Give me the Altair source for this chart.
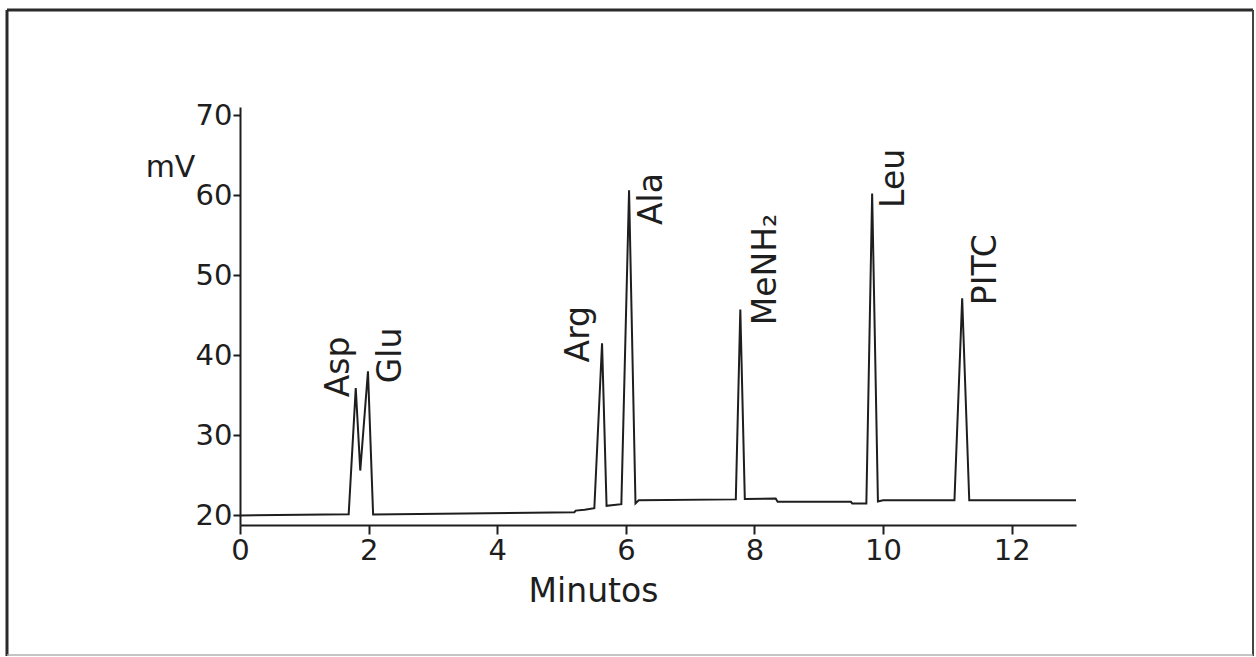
import altair as alt
import pandas as pd

# Chromatogram trace (minutes, mV)
times = [0.0, 1.69, 1.80, 1.87, 1.99, 2.07, 5.20, 5.22, 5.36, 5.51, 5.63, 5.70, 5.93,
         6.05, 6.15, 6.20, 7.71, 7.78, 7.85, 8.33, 8.36, 9.50, 9.52, 9.74, 9.83, 9.92,
         10.00, 11.11, 11.23, 11.34, 13.0]
signal = [20.0, 20.15, 35.9, 25.6, 38.0, 20.1, 20.4, 20.6, 20.7, 20.9, 41.5, 21.2, 21.4,
          60.6, 21.5, 21.9, 22.0, 45.7, 22.05, 22.1, 21.7, 21.7, 21.5, 21.5, 60.2, 21.75,
          21.9, 21.9, 47.1, 21.9, 21.9]

# Peak labels (rotated), anchored at the start of each text
peak_names = ["Asp", "Glu", "Arg", "Ala", "MeNH₂", "Leu", "PITC"]
peak_label_t = [1.70, 2.51, 5.42, 6.56, 8.34, 10.33, 11.76]
peak_label_mv = [34.75, 36.5, 39.1, 56.25, 43.75, 58.4, 46.25]

x_ticks = [0, 2, 4, 6, 8, 10, 12]
y_ticks = [20, 30, 40, 50, 60, 70]

FONT = "DejaVu Sans"
INK = "#1e1e1e"

trace = pd.DataFrame({"t": times, "mv": signal})
labels = pd.DataFrame({"name": peak_names, "t": peak_label_t, "mv": peak_label_mv})

x_scale = alt.Scale(domain=[0, 13], nice=False, zero=False)
y_scale = alt.Scale(domain=[18.8, 71], nice=False, zero=False)

line = alt.Chart(trace).mark_line(color=INK, strokeWidth=2).encode(
    x=alt.X("t:Q", scale=x_scale,
            axis=alt.Axis(values=x_ticks, format="d", labelFlush=False,
                          title="Minutos", grid=False,
                          domainColor=INK, domainWidth=2, tickColor=INK, tickWidth=2,
                          tickSize=9, labelFont=FONT, labelFontSize=29, labelColor=INK,
                          labelPadding=2, labelFontWeight="normal",
                          titleFont=FONT, titleFontSize=33, titleFontWeight="normal",
                          titleColor=INK, titleX=353, titleY=66,
                          titleAlign="center", titleBaseline="middle")),
    y=alt.Y("mv:Q", scale=y_scale,
            axis=alt.Axis(values=y_ticks, format="d", labelFlush=False,
                          title="mV", grid=False,
                          domainColor=INK, domainWidth=2, tickColor=INK, tickWidth=2,
                          tickSize=7, labelFont=FONT, labelFontSize=29, labelColor=INK,
                          labelPadding=1, labelFontWeight="normal",
                          titleFont=FONT, titleFontSize=30, titleFontWeight="normal",
                          titleColor=INK, titleAngle=0, titleX=-70, titleY=60,
                          titleAlign="center", titleBaseline="middle")),
)

text = alt.Chart(labels).mark_text(
    angle=270, align="left", baseline="alphabetic", font=FONT, fontSize=33,
    color=INK
).encode(x=alt.X("t:Q", scale=x_scale), y=alt.Y("mv:Q", scale=y_scale), text="name:N")

# Outer frame of the figure
frame_top = alt.Chart().mark_rule(color="#2a2a2a", strokeWidth=3).encode(
    x=alt.value(-233), x2=alt.value(1013), y=alt.value(-97))
frame_left = alt.Chart().mark_rule(color="#2a2a2a", strokeWidth=3).encode(
    x=alt.value(-233), y=alt.value(-97), y2=alt.value(549))
frame_right = alt.Chart().mark_rule(color="#444444", strokeWidth=2).encode(
    x=alt.value(1013), y=alt.value(-97), y2=alt.value(549))
frame_bottom = alt.Chart().mark_rule(color="#b0b0b0", strokeWidth=1.5).encode(
    x=alt.value(-233), x2=alt.value(1013), y=alt.value(548))

chart = alt.layer(line, text, frame_top, frame_left, frame_right, frame_bottom).properties(
    width=836, height=418,
    autosize=alt.AutoSizeParams(type="none"),
    padding={"left": 240, "top": 107, "right": 180, "bottom": 132},
    background="white",
).configure_view(stroke=None)

chart.save("out.html", embed_options={"renderer": "svg", "actions": False})
